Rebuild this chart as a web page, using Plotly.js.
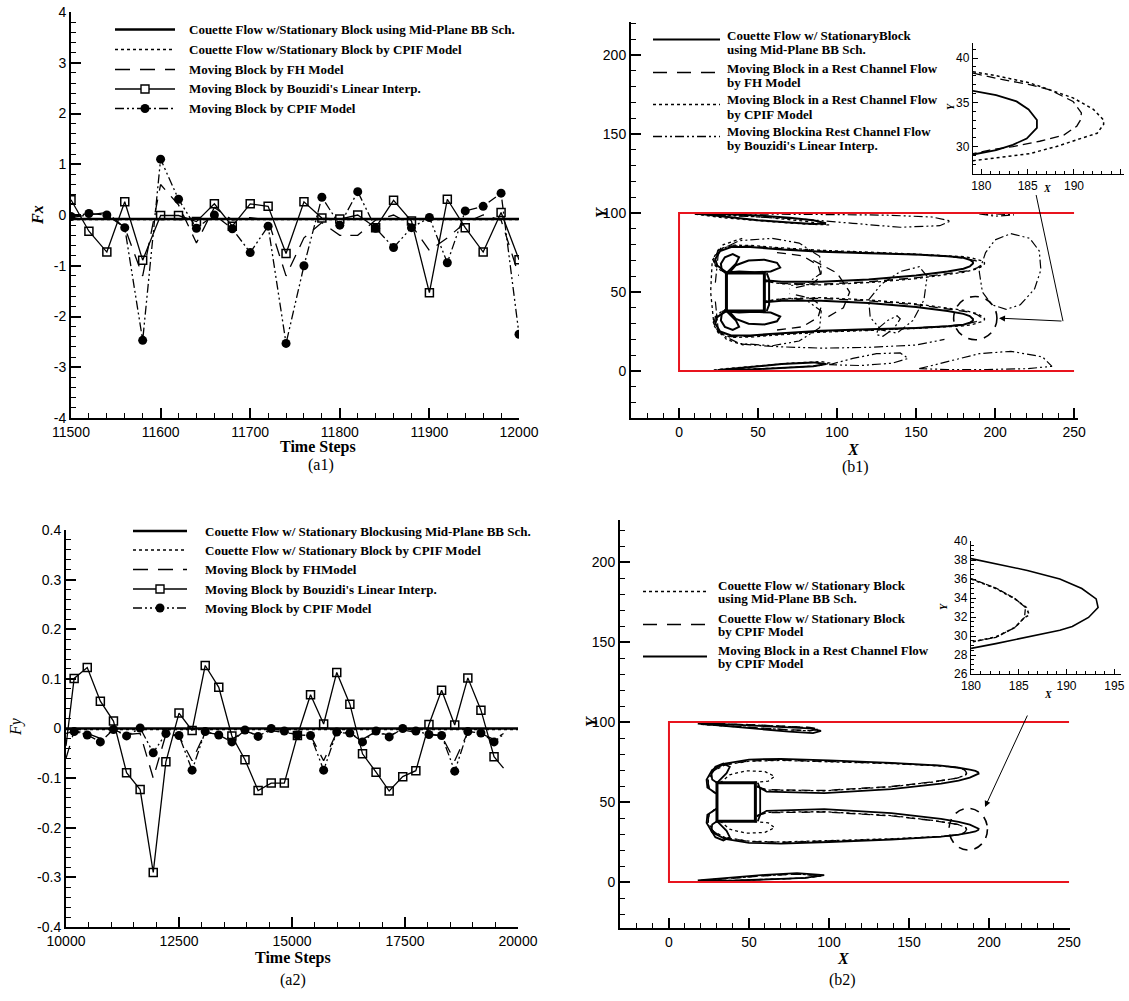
<!DOCTYPE html>
<html><head><meta charset="utf-8">
<script src="https://cdn.plot.ly/plotly-3.0.1.min.js"></script>
<style>html,body{margin:0;padding:0;background:#fff}#chart{width:1129px;height:1001px}</style>
</head><body><div id="chart"></div>
<script>
// ===== Panel (a1): Fx vs time steps =====
const a1_steps = [11500,11520,11540,11560,11580,11600,11620,11640,11660,11680,11700,11720,11740,11760,11780,11800,11820,11840,11860,11880,11900,11920,11940,11960,11980,12000];
const a1_couette_steps = [11500, 12000];
const a1_couette_midplane = [-0.08, -0.08];
const a1_couette_cpif = [-0.09, -0.09];
const a1_fh = [-0.05,0.0,0.05,-0.25,-1.2,0.6,0.2,-0.55,0.15,-0.1,-0.05,-0.1,-1.2,-0.45,-0.15,-0.4,-0.4,-0.1,0.0,-0.2,-0.7,-0.45,-0.15,0.0,-0.1,-1.2];
const a1_bouzidi = [0.30,-0.32,-0.73,0.26,-0.89,-0.01,-0.01,-0.13,0.22,-0.22,0.22,0.17,-0.76,0.26,-0.06,-0.08,0.0,-0.25,0.29,-0.12,-1.53,0.31,-0.25,-0.73,0.05,-0.88];
const a1_cpif = [-0.03,0.03,0.0,-0.25,-2.47,1.1,0.31,-0.26,0.0,-0.27,-0.74,-0.22,-2.53,-1.0,0.35,-0.2,0.46,-0.26,-0.64,-0.25,-0.05,-0.94,0.08,0.17,0.43,-2.35];
const a1_xticks = [11500,11600,11700,11800,11900,12000];
const a1_xticklabels = ['11500','11600','11700','11800','11900','12000'];
const a1_yticks = [-4,-3,-2,-1,0,1,2,3,4];
const a1_yticklabels = ['-4','-3','-2','-1','0','1','2','3','4'];
const a1_legend_labels = ['Couette Flow w/Stationary Block using Mid-Plane BB Sch.', 'Couette Flow w/Stationary Block by CPIF Model', 'Moving Block by FH Model', "Moving Block by Bouzidi's Linear Interp.", 'Moving Block by CPIF Model'];

// ===== Panel (a2): Fy vs time steps =====
const a2_steps = [10000,10180,10470,10760,11050,11340,11640,11930,12210,12500,12790,13080,13380,13670,13960,14250,14540,14830,15120,15410,15700,15990,16280,16560,16860,17150,17450,17740,18030,18310,18600,18890,19180,19470,19680];
const a2_couette_steps = [10000, 20000];
const a2_couette_midplane = [0.0, 0.0];
const a2_couette_cpif = [-0.002, -0.002];
const a2_fh = [-0.06,-0.005,-0.01,-0.02,-0.003,-0.012,-0.01,-0.1,-0.012,-0.015,-0.065,-0.008,-0.012,-0.022,-0.005,-0.014,-0.004,-0.008,-0.012,-0.014,-0.065,-0.008,-0.01,-0.022,-0.006,-0.014,-0.003,-0.008,-0.012,-0.015,-0.065,-0.008,-0.01,-0.022,-0.01];
const a2_bouzidi = [-0.035,0.101,0.123,0.055,0.015,-0.089,-0.123,-0.29,-0.067,0.031,-0.004,0.127,0.083,-0.015,-0.063,-0.125,-0.11,-0.11,-0.014,0.068,0.009,0.113,0.049,-0.051,-0.088,-0.126,-0.097,-0.085,0.008,0.077,0.007,0.102,0.037,-0.057,-0.08];
const a2_cpif = [-0.01,-0.006,-0.013,-0.027,-0.002,-0.015,0.001,-0.049,-0.01,-0.014,-0.084,-0.006,-0.013,-0.027,-0.003,-0.016,0.0,-0.005,-0.013,-0.014,-0.084,-0.007,-0.009,-0.027,-0.005,-0.017,0.0,-0.005,-0.012,-0.014,-0.086,-0.006,-0.009,-0.027,-0.012];
const a2_xticks = [10000,12500,15000,17500,20000];
const a2_xticklabels = ['10000','12500','15000','17500','20000'];
const a2_yticks = [-0.4,-0.3,-0.2,-0.1,0,0.1,0.2,0.3,0.4];
const a2_yticklabels = ['-0.4','-0.3','-0.2','-0.1','0','0.1','0.2','0.3','0.4'];
const a2_legend_labels = ['Couette Flow w/ Stationary Blockusing Mid-Plane BB Sch.', 'Couette Flow w/ Stationary Block by CPIF Model', 'Moving Block by FHModel', "Moving Block by Bouzidi's Linear Interp.", 'Moving Block by CPIF Model'];

// ===== Panel (b1): contour lines (X, Y), polylines separated by null =====
const b1_midplane_x = [54,65,90,120,150,170,180,184,186,186,184.5,182,180,170,150,120,90,65,45,33,26,23,24,28,30,null,
  54,65,90,120,150,170,180,184,186,186,184.5,182,180,170,150,120,90,65,45,33,26,23,24,28,30,null,
  32,36,44,54,62,64,58,48,38,32,null, 32,36,44,54,62,64,58,48,38,32,null,
  30,27,26.5,29,34,38,36,32,30,null, 30,27,26.5,29,34,38,36,32,30,null,
  55.5,57,57,55.5,null,
  12,30,50,70,85,93,85,70,50,30,12,null, 25,45,65,85,93,85,65,45,25];
const b1_midplane_y = [43.5,44.5,44.5,43,40.5,38,36.2,34.8,33,32,30.8,30,29.3,28.3,27.3,26.5,25.5,24,22.5,22.5,25,30,34,37,38.5,null,
  57.5,56.5,56.5,58,60.5,63,64.8,66.2,68,69,70.2,71,71.7,72.7,73.7,74.5,75.5,77,78.5,78.5,76,71,67,64,62.5,null,
  62.5,67,70,70.5,68.5,65.5,63,62.5,63,62.5,null, 37.5,33,30,29.5,31.5,34.5,37,37.5,37,37.5,null,
  62,64,68,72,74,72,68,64,62,null, 38,36,32,28,26,28,32,36,38,null,
  62,58,42,38,null,
  99.5,97.5,95.5,94,93,93.5,95.5,97,98.5,99.3,99.5,null, 0.6,2.5,4.5,5.5,4.5,3,1.8,1,0.6];
const b1_fh_x = [54,65,90,120,150,170,180,185,189,191,191,190,188,183,180,170,150,120,90,65,45,33,25,22,23,27,30,null,
  54,65,90,120,150,170,180,185,189,191,191,190,188,183,180,170,150,120,90,65,45,33,25,22,23,27,30,null,
  62,78,88,90,84,70,null, 62,78,88,90,84,70,null, 85,100,108,104,92];
const b1_fh_y = [44,45.5,46,44.5,42,39.5,38.3,37.2,35.5,34,33,32.3,31.3,30.2,29.5,28.5,27.3,26,25,23.5,22,21.8,24.5,30,34,37.5,39,null,
  57,55.5,55,56.5,59,61.5,62.7,63.8,65.5,67,68,68.7,69.7,70.8,71.5,72.5,73.7,75,76,77.5,79,79.2,76.5,71,67,63.5,62,null,
  75,73,67,60,55,52,null, 26,28,34,41,46,49,null, 70,62,50,40,33];
const b1_cpif_x = [54,65,90,120,150,170,180,185,189,192,193.3,193.3,192.5,190.5,188,185,180,170,150,120,90,65,45,33,25,21.5,22.5,27,30,null,
  54,65,90,120,150,170,180,185,189,192,193.3,193.3,192.5,190.5,188,185,180,170,150,120,90,65,45,33,25,21.5,22.5,27,30,null,
  40,28,21,20,22,30,42,null, 10,30,55,80,95,80,55,30,10,null, 22,45,70,90,96,88,65,40,22];
const b1_cpif_y = [44.2,45.8,46.5,45,42.5,39.8,38.5,37.3,36.2,34.4,33.2,32.5,31.5,30.9,30.1,29.3,28.6,28,27,25.7,24.6,23,21.5,21.3,24,30,34,37.8,39.3,null,
  56.8,55.2,54.5,56,58.5,61.2,62.5,63.7,64.8,66.6,67.8,68.5,69.5,70.1,70.9,71.7,72.4,73,74,75.3,76.4,78,79.5,79.7,77,71,67,63.2,61.7,null,
  84,80,70,50,30,20,16,null, 99.3,96.8,94.8,93,92.5,94.8,97.3,98.8,99.3,null, 0.8,2.8,5,6,5,3.3,2,1.2,0.8];
const b1_bouzidi_x = [23,25,38,59,76,89,90,81,70,null, 23,25,38,59,76,89,90,81,70,null,
  40,60,90,120,150,168,null,
  210,222,228,229,225,216,207,198,192,190,194,200,210,null,
  120,128,140,152,157,155,148,138,128,121,120,null,
  126,132,138,140,136,129,125,126,null,
  10,40,80,110,140,165,172,160,130,100,70,40,10,null,
  190,200,212,200,190,null,
  95,110,125,140,145,135,115,95,null,
  152,170,190,210,230,236,220,195,170,152];
const b1_bouzidi_y = [56,76,82.5,84,81,72.6,62,55.5,54,null, 44,24,17.5,16,19,27.4,38,44.5,46,null,
  17,15.5,14.5,15,16.5,20,null,
  87,84,76,64,52,42,39,42,50,63,75,83,87,null,
  45,55,63,66,60,45,32,24,26,34,45,null,
  27,32,35,33,27,22,23,27,null,
  99.5,98,96,93.5,91,92,95,97.5,98.7,99,99.3,99.5,99.6,null,
  99.5,98,98.8,99.5,99.5,null,
  4,8,11,11.5,8,5,3.5,4,null,
  1.5,6,11,12.5,9,3,1.5,1,1,1.5];
// inset (b1): zoom on the lower lobe tip
const b1in_midplane_x = [179.1,181.6,183.8,185.1,186.0,186.0,184.9,183.4,181.6,179.1];
const b1in_midplane_y = [36.3,35.8,35.1,34.2,33.0,32.1,30.9,30.2,29.6,29.1];
const b1in_fh_x = [179.1,181.6,185.2,187.4,189.9,190.8,190.7,190.3,188.9,186.3,183.4,180.9,179.1];
const b1in_fh_y = [38.3,37.7,37.0,36.4,35.1,33.8,33.0,32.3,31.3,30.6,30.0,29.6,29.2];
const b1in_cpif_x = [179.1,181.6,185.2,188.1,189.9,192.1,193.2,193.2,192.5,190.7,188.1,185.2,181.6,179.1];
const b1in_cpif_y = [38.45,38.0,37.2,36.2,35.5,34.2,33.0,32.5,31.5,30.9,30.0,29.2,28.7,28.4];
const b1_legend_labels = [['Couette Flow w/ StationaryBlock', 'using Mid-Plane BB Sch.'], ['Moving Block in a Rest Channel Flow', 'by FH Model'], ['Moving Block in a Rest Channel Flow', 'by CPIF Model'], ['Moving Blockina Rest Channel Flow', "by Bouzidi's Linear Interp."]];

// ===== Panel (b2) =====
const b2_midplane_x = [55,61,97,139,165,175,180,183,185.5,186,185.6,184.6,182.6,180,170,139,100,70,50,35,28,24.5,25,28,30,null,
  55,61,97,139,165,175,180,183,185.5,186,185.6,184.6,182.6,180,170,139,100,70,50,35,28,24.5,25,28,30,null,
  32,38,48,60,66,62,50,40,32,null, 32,38,48,60,66,62,50,40,32,null,
  20,35,55,75,88,93,88,70,50,30,20,null, 20,40,60,80,95,85,60,40,20];
const b2_midplane_y = [41.5,43.5,44,41.5,38.5,37,36,35,33.9,33,31.9,30.9,29.9,29.4,28.5,27,25.8,25,25.5,27.8,31.5,37,42,45,46,null,
  59.5,57.5,57,59.5,62.5,64,65,66,67.1,68,69.1,70.1,71.1,71.6,72.5,74,75.2,76,75.5,73.2,69.5,64,59,56,55,null,
  62,67,69.5,69,66,63,62,62,62,null, 38,33,30.5,31,34,37,38,38,38,null,
  98.5,97.5,96,95,94.5,95.5,96.5,97.5,98.3,98.8,98.5,null, 1,2.5,4,5,4,2.5,1.5,1,1];
const b2_couette_cpif_x = [55,61,97,139,165,175,180,183,185.4,185.9,185.5,184.5,182.5,180,170,139,100,70,50,35,28,24.3,25,28,30,null,
  55,61,97,139,165,175,180,183,185.4,185.9,185.5,184.5,182.5,180,170,139,100,70,50,35,28,24.3,25,28,30,null,
  21,36,56,76,89,93.5,88,70,50,30,21,null, 21,40,60,80,95.5,85,60,40,21];
const b2_couette_cpif_y = [41.3,43.3,43.8,41.3,38.4,37,36.1,35.1,34,33,31.9,30.8,29.8,29.3,28.3,26.8,25.6,24.8,25.3,27.6,31.3,37,42,45,46,null,
  59.7,57.7,57.2,59.7,62.6,64,64.9,65.9,67,68,69.1,70.2,71.2,71.7,72.7,74.2,75.4,76.2,75.7,73.4,69.7,64,59,56,55,null,
  98.6,97.6,96.1,95.1,94.6,95.6,96.6,97.6,98.4,98.9,98.6,null, 0.9,2.4,3.9,4.9,3.9,2.4,1.4,0.9,0.9];
const b2_moving_cpif_x = [55,61,97,139,170,181,188,192,193.5,193.3,191.5,188,181,170,139,100,70,50,35,27,23.5,24,28,30,null,
  55,61,97,139,170,181,188,192,193.5,193.3,191.5,188,181,170,139,100,70,50,35,27,23.5,24,28,30,null,
  30,27,26.5,29,34,38,36,32,30,null, 30,27,26.5,29,34,38,36,32,30,null,
  55.5,57,57,55.5,null,
  18,35,55,75,90,95,88,70,50,30,18,null, 18,40,60,80,97,85,60,40,18];
const b2_moving_cpif_y = [41,44.5,45.5,43,39.5,37.6,35.8,34.2,33.3,32.5,31.6,30.8,29.6,28.3,26.5,25,24,24.5,27,31,37,42,45,46,null,
  60,56.5,55.5,58,61.5,63.4,65.2,66.8,67.7,68.5,69.4,70.2,71.4,72.7,74.5,76,77,76.5,74,70,64,59,56,55,null,
  62,64,68,72,74,72,68,64,62,null, 38,36,32,28,26,28,32,36,38,null,
  62,58,42,38,null,
  99,97.5,95.5,94,93,94.5,96,97,98,98.8,99,null, 1,2.8,4.5,5.5,4.3,2.6,1.4,0.8,1];
// inset (b2)
const b2in_midplane_x = [180,182.6,184.6,185.8,186.1,185.6,184.6,182.6,180.2];
const b2in_midplane_y = [36.0,35.0,33.9,33.0,32.2,31.95,30.9,29.9,29.4];
const b2in_couette_cpif_x = [180,182.6,184.6,185.7,185.6,184.6,182.6,180.2];
const b2in_couette_cpif_y = [36.05,35.05,33.95,33.0,31.95,30.9,29.85,29.4];
const b2in_moving_cpif_x = [180,182.6,185.9,189.3,191.6,193.1,193.3,192.3,190.6,189.3,185.9,182.6,180];
const b2in_moving_cpif_y = [38.15,37.6,36.9,36.0,35.0,33.9,33.0,31.95,31.0,30.6,29.85,29.2,28.7];
const b2_legend_labels = [['Couette Flow w/ Stationary Block', 'using Mid-Plane BB Sch.'], ['Couette Flow w/ Stationary Block', 'by CPIF Model'], ['Moving Block in a Rest Channel Flow', 'by CPIF Model']];

// ===== helpers =====
const W = 1129, H = 1001;
const px = v => v / W;
const py = v => 1 - v / H;
const SERIF = 'Liberation Serif';
const SANS = 'Liberation Sans';
const DASHDOT2 = '9px,3px,2px,3px,2px,3px';
const FHDASH = '13px,9px';

const STY = {
  solidThick: {width: 2.5},
  dotted: {width: 1.5, dash: 'dot'},
  dashed: {width: 1.3, dash: FHDASH},
  solid: {width: 1.3},
  dashdot: {width: 1.3, dash: DASHDOT2}
};

function ax(extra) {
  return Object.assign({
    showline: true, linecolor: 'black', linewidth: 2, mirror: false,
    ticks: 'inside', ticklen: 10, tickwidth: 2, tickcolor: 'black',
    showgrid: false, zeroline: false, fixedrange: true,
    tickfont: {family: SANS, size: 14, color: 'black'}
  }, extra);
}
function minor(d, t0, len) {
  return {ticks: 'inside', ticklen: len || 5, tickwidth: 1, tickcolor: 'black', dtick: d, tick0: t0, showgrid: false};
}
function line(x, y, name, xa, ya, lineStyle, extra) {
  return Object.assign({
    type: 'scatter', mode: 'lines', x: x, y: y, name: name,
    xaxis: xa, yaxis: ya, line: Object.assign({color: 'black'}, lineStyle),
    showlegend: false, connectgaps: false, hoverinfo: 'skip'
  }, extra || {});
}
const SQ = (sizes) => ({symbol: 'square-open', size: sizes, opacity: 1, color: 'black', line: {width: 1.5, color: 'black'}});
const CI = (sizes) => ({symbol: 'circle', size: sizes, opacity: 1, color: 'black', line: {width: 0}});

const traces = [];
// (a1)
traces.push(line(a1_couette_steps, a1_couette_midplane, a1_legend_labels[0], 'x', 'y', STY.solidThick));
traces.push(line(a1_couette_steps, a1_couette_cpif, a1_legend_labels[1], 'x', 'y', STY.dotted));
traces.push(line(a1_steps, a1_fh, a1_legend_labels[2], 'x', 'y', STY.dashed));
traces.push(line(a1_steps, a1_bouzidi, a1_legend_labels[3], 'x', 'y', STY.solid, {mode: 'lines+markers', marker: SQ(8)}));
traces.push(line(a1_steps, a1_cpif, a1_legend_labels[4], 'x', 'y', STY.dashdot, {mode: 'lines+markers', marker: CI(9)}));

// (a2) (first and last samples carry no marker)
const a2_sq_sizes = a2_steps.map((s, i) => (i === 0 || i === a2_steps.length - 1) ? 0 : 8);
const a2_ci_sizes = a2_steps.map((s, i) => (i === 0 || i === a2_steps.length - 1) ? 0 : 9);
traces.push(line(a2_couette_steps, a2_couette_midplane, a2_legend_labels[0], 'x4', 'y4', STY.solidThick));
traces.push(line(a2_couette_steps, a2_couette_cpif, a2_legend_labels[1], 'x4', 'y4', STY.dotted));
traces.push(line(a2_steps, a2_fh, a2_legend_labels[2], 'x4', 'y4', STY.dashed));
traces.push(line(a2_steps, a2_bouzidi, a2_legend_labels[3], 'x4', 'y4', STY.solid, {mode: 'lines+markers', marker: SQ(a2_sq_sizes)}));
traces.push(line(a2_steps, a2_cpif, a2_legend_labels[4], 'x4', 'y4', STY.dashdot, {mode: 'lines+markers', marker: CI(a2_ci_sizes)}));

// (b1)
const B1STY = [{width: 2}, {width: 1.3, dash: '9px,6px'}, {width: 1.3, dash: 'dot'}, {width: 1.2, dash: DASHDOT2}];
traces.push(line(b1_midplane_x, b1_midplane_y, b1_legend_labels[0].join(' '), 'x2', 'y2', B1STY[0]));
traces.push(line(b1_fh_x, b1_fh_y, b1_legend_labels[1].join(' '), 'x2', 'y2', B1STY[1]));
traces.push(line(b1_cpif_x, b1_cpif_y, b1_legend_labels[2].join(' '), 'x2', 'y2', B1STY[2]));
traces.push(line(b1_bouzidi_x, b1_bouzidi_y, b1_legend_labels[3].join(' '), 'x2', 'y2', B1STY[3]));
traces.push(line(b1in_midplane_x, b1in_midplane_y, 'inset: ' + b1_legend_labels[0].join(' '), 'x3', 'y3', {width: 1.8}));
traces.push(line(b1in_fh_x, b1in_fh_y, 'inset: ' + b1_legend_labels[1].join(' '), 'x3', 'y3', {width: 1.3, dash: '9px,5px'}));
traces.push(line(b1in_cpif_x, b1in_cpif_y, 'inset: ' + b1_legend_labels[2].join(' '), 'x3', 'y3', {width: 1.5, dash: 'dot'}));

// (b2)
const B2STY = [{width: 1.3, dash: 'dot'}, {width: 1.3, dash: '9px,6px'}, {width: 1.8}];
traces.push(line(b2_midplane_x, b2_midplane_y, b2_legend_labels[0].join(' '), 'x5', 'y5', B2STY[0]));
traces.push(line(b2_couette_cpif_x, b2_couette_cpif_y, b2_legend_labels[1].join(' '), 'x5', 'y5', B2STY[1]));
traces.push(line(b2_moving_cpif_x, b2_moving_cpif_y, b2_legend_labels[2].join(' '), 'x5', 'y5', B2STY[2]));
traces.push(line(b2in_midplane_x, b2in_midplane_y, 'inset: ' + b2_legend_labels[0].join(' '), 'x6', 'y6', {width: 1.6, dash: 'dot'}));
traces.push(line(b2in_couette_cpif_x, b2in_couette_cpif_y, 'inset: ' + b2_legend_labels[1].join(' '), 'x6', 'y6', {width: 1.3, dash: '6px,2px'}));
traces.push(line(b2in_moving_cpif_x, b2in_moving_cpif_y, 'inset: ' + b2_legend_labels[2].join(' '), 'x6', 'y6', {width: 1.6}));

// ===== legends (line samples + text) =====
const shapes = [];
const annotations = [];
const legFont = {family: SERIF, size: 13, color: 'black', weight: 'bold'};
function legendEntry(sx0, sx1, sy, style, mk, tx, lines, ty0, lineGap) {
  shapes.push({type: 'line', xref: 'paper', yref: 'paper', x0: px(sx0), x1: px(sx1), y0: py(sy), y1: py(sy),
    line: Object.assign({color: 'black'}, style)});
  const cx = (sx0 + sx1) / 2;
  if (mk === 'square') shapes.push({type: 'rect', xref: 'paper', yref: 'paper', x0: px(cx - 4), x1: px(cx + 4), y0: py(sy + 4), y1: py(sy - 4), fillcolor: 'white', line: {color: 'black', width: 1.4}});
  if (mk === 'circle') shapes.push({type: 'circle', xref: 'paper', yref: 'paper', x0: px(cx - 4.5), x1: px(cx + 4.5), y0: py(sy + 4.5), y1: py(sy - 4.5), fillcolor: 'black', line: {color: 'black', width: 0}});
  lines.forEach((t, i) => annotations.push({xref: 'paper', yref: 'paper', x: px(tx), y: py(ty0 + i * lineGap), xanchor: 'left', yanchor: 'middle',
    text: t, showarrow: false, font: legFont}));
}
const aStyles = [STY.solidThick, STY.dotted, {width: 1.3, dash: '15px,10px'}, STY.solid, STY.dashdot];
const aMarks = [null, null, null, 'square', 'circle'];
const a1Rows = [29.5, 49.5, 69.5, 89, 108.5];
a1_legend_labels.forEach((t, i) => legendEntry(115, 175, a1Rows[i], aStyles[i], aMarks[i], 187, [t], a1Rows[i], 0));
const a2Rows = [531, 550, 569.5, 589, 608];
a2_legend_labels.forEach((t, i) => legendEntry(133, 187, a2Rows[i], aStyles[i], aMarks[i], 203, [t], a2Rows[i], 0));
const b1Rows = [35, 68, 100, 132];
const b1LegSty = [{width: 2}, {width: 1.5, dash: '14px,10px'}, {width: 1.3, dash: 'dot'}, {width: 1.3, dash: DASHDOT2}];
b1_legend_labels.forEach((t, i) => legendEntry(653, 720, b1Rows[i] + 4.5, b1LegSty[i], null, 725, t, b1Rows[i], 14));
const b2Rows = [585, 618, 650];
const b2LegSty = [{width: 1.3, dash: 'dot'}, {width: 1.5, dash: '14px,10px'}, {width: 1.8}];
b2_legend_labels.forEach((t, i) => legendEntry(643, 707, b2Rows[i] + 6.5, b2LegSty[i], null, 716, t, b2Rows[i], 13.5));

// ===== geometry (channel, block, highlight circles, leader arrows) =====
shapes.push(
  {type: 'path', xref: 'x2', yref: 'y2', path: 'M250,100 L0,100 L0,0 L250,0', line: {color: '#e8141e', width: 2}},
  {type: 'path', xref: 'x5', yref: 'y5', path: 'M250,100 L0,100 L0,0 L250,0', line: {color: '#e8141e', width: 2}},
  {type: 'rect', xref: 'x2', yref: 'y2', x0: 30, x1: 54, y0: 38, y1: 62, fillcolor: 'white', line: {color: 'black', width: 3}, layer: 'above'},
  {type: 'rect', xref: 'x5', yref: 'y5', x0: 30, x1: 54, y0: 38, y1: 62, fillcolor: 'white', line: {color: 'black', width: 3}, layer: 'above'},
  {type: 'circle', xref: 'x2', yref: 'y2', x0: 173.8, x1: 201.2, y0: 19.8, y1: 47.2, line: {color: 'black', width: 1.6, dash: '9px,7px'}},
  {type: 'circle', xref: 'x5', yref: 'y5', x0: 175, x1: 199, y0: 20, y1: 46, line: {color: 'black', width: 1.6, dash: '9px,7px'}},
  {type: 'line', xref: 'x2', yref: 'y2', x0: 226, y0: 111.4, x1: 243, y1: 31.6, line: {color: 'black', width: 1}}
);
const titleFont = {family: SERIF, size: 16, color: 'black', weight: 'bold', style: 'italic'};
const smallTitle = {family: SERIF, size: 10, color: 'black', weight: 'bold', style: 'italic'};
const annFont = {family: SERIF, size: 16, color: 'black'};
const stepFont = {family: SERIF, size: 16, color: 'black', weight: 'bold'};
function txt(x, y, t, font, angle) {
  annotations.push({xref: 'paper', yref: 'paper', x: px(x), y: py(y), xanchor: 'center', yanchor: 'middle',
    text: t, showarrow: false, font: font, textangle: angle || 0});
}
annotations.push(
  {xref: 'x2', yref: 'y2', axref: 'x2', ayref: 'y2', x: 202.5, y: 33.5, ax: 243, ay: 31.6, showarrow: true, arrowhead: 2, arrowsize: 1.2, arrowwidth: 1, arrowcolor: 'black', text: ''},
  {xref: 'x5', yref: 'y5', axref: 'x5', ayref: 'y5', x: 197.5, y: 46.9, ax: 224.4, ay: 105, showarrow: true, arrowhead: 2, arrowsize: 1.2, arrowwidth: 1, arrowcolor: 'black', text: ''}
);
txt(38, 215, 'Fx', titleFont, -90);
txt(318, 447, 'Time Steps', stepFont);
txt(321, 465, '(a1)', annFont);
txt(16, 727, 'Fy', {family: SERIF, size: 16, color: 'black', style: 'italic'}, -90);
txt(293, 958, 'Time Steps', stepFont);
txt(293, 980, '(a2)', annFont);
txt(601, 213, 'Y', titleFont, -90);
txt(853, 449, 'X', titleFont);
txt(855, 467, '(b1)', annFont);
txt(591, 722, 'Y', titleFont, -90);
txt(843, 958, 'X', titleFont);
txt(842, 980, '(b2)', annFont);
txt(1047, 189, 'X', smallTitle);
txt(950, 107, 'Y', smallTitle, -90);
txt(1048, 694, 'X', smallTitle);
txt(943, 607, 'Y', smallTitle, -90);

const inTick = {family: SANS, size: 12, color: 'black'};
const layout = {
  width: W, height: H, margin: {l: 0, r: 0, t: 0, b: 0},
  paper_bgcolor: 'white', plot_bgcolor: 'rgba(0,0,0,0)', showlegend: false,
  // (a1)
  xaxis: ax({domain: [px(71), px(519)], range: [11500, 12000], anchor: 'y', tickmode: 'array', tickvals: a1_xticks, ticktext: a1_xticklabels, minor: minor(20, 11500)}),
  yaxis: ax({domain: [py(418), py(12)], range: [-4, 4], anchor: 'x', tickmode: 'array', tickvals: a1_yticks, ticktext: a1_yticklabels, minor: minor(0.2, 0)}),
  // (b1)
  xaxis2: ax({domain: [px(631), px(1078)], range: [-30.4, 252.5], anchor: 'y2', dtick: 50, tick0: 0, minor: minor(10, 0)}),
  yaxis2: ax({domain: [py(418), py(22)], range: [-29.7, 220.9], anchor: 'x2', dtick: 50, tick0: 0, minor: minor(10, 0)}),
  // (b1) inset
  xaxis3: ax({domain: [px(973), px(1124)], range: [179.1, 195.4], anchor: 'y3', dtick: 5, tick0: 180, linewidth: 1.2, ticklen: 5, tickwidth: 1, tickfont: inTick, minor: minor(1, 180, 3)}),
  yaxis3: ax({domain: [py(174), py(43)], range: [26.9, 41.7], anchor: 'x3', dtick: 5, tick0: 30, linewidth: 1.2, ticklen: 5, tickwidth: 1, tickfont: inTick, minor: minor(1, 30, 3)}),
  // (a2)
  xaxis4: ax({domain: [px(66), px(518)], range: [10000, 20000], anchor: 'y4', tickmode: 'array', tickvals: a2_xticks, ticktext: a2_xticklabels, minor: minor(500, 10000)}),
  yaxis4: ax({domain: [py(927), py(530)], range: [-0.4, 0.4], anchor: 'x4', tickmode: 'array', tickvals: a2_yticks, ticktext: a2_yticklabels, minor: minor(0.02, 0)}),
  // (b2)
  xaxis5: ax({domain: [px(620), px(1070)], range: [-30.6, 250.6], anchor: 'y5', dtick: 50, tick0: 0, minor: minor(10, 0)}),
  yaxis5: ax({domain: [py(928), py(520)], range: [-28.75, 226.25], anchor: 'x5', dtick: 50, tick0: 0, minor: minor(10, 0)}),
  // (b2) inset
  xaxis6: ax({domain: [px(971), px(1121)], range: [180, 195.7], anchor: 'y6', dtick: 5, tick0: 180, linewidth: 1.2, ticklen: 5, tickwidth: 1, tickfont: inTick, minor: minor(1, 180, 3)}),
  yaxis6: ax({domain: [py(674), py(541)], range: [26, 40], anchor: 'x6', dtick: 2, tick0: 26, linewidth: 1.2, ticklen: 5, tickwidth: 1, tickfont: inTick, minor: minor(0.5, 26, 3)}),
  shapes: shapes,
  annotations: annotations
};

Plotly.newPlot('chart', traces, layout, {staticPlot: true, displayModeBar: false});
</script>
</body></html>
